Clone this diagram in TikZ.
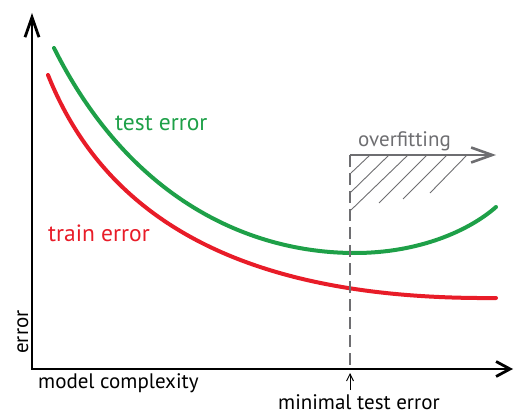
\documentclass[tikz,border=0pt]{standalone}
\usepackage{fontspec}
\setmainfont{PT Sans}
\usetikzlibrary{positioning, arrows.meta}
\definecolor{testgreen}{RGB}{30,160,72}
\definecolor{trainred}{RGB}{232,28,40}
\definecolor{overgray}{RGB}{110,110,113}

\begin{document}
\begin{tikzpicture}[x=1pt, y=-1pt,
    axis/.style={line width=2.8pt},
    curve/.style={line width=4pt, line cap=round},
    marker/.style={overgray, line width=2.6pt, dash pattern=on 12pt off 6pt},
    hatch/.style={overgray, line width=0.9pt},
    lbl/.style={font=\fontsize{21}{25}\selectfont, inner sep=0pt}]
    \useasboundingbox (0,0) rectangle (514,414);

    % Axes
    \coordinate (ytop) at (32,13);
    \coordinate (origin) at (32,369);
    \coordinate (xend) at (513,369);
    \draw[axis, {Straight Barb[length=20pt,width=14pt]}-{Straight Barb[length=14pt,width=15pt]}]
        (ytop) -- (origin) -- (xend);

    % Curves
    \draw[curve, testgreen] (54,48) .. controls (130,200) and (250,253) .. (355,253)
        .. controls (420,253) and (470,230) .. (496,207);
    \draw[curve, trainred] (48,75) .. controls (110,230) and (260,300) .. (496,298);

    % Minimum marker and overfitting region
    \coordinate (mintop) at (350,155);
    \coordinate (minbot) at (350,369);
    \coordinate (overend) at (496,155);
    \draw[marker] (mintop) -- (minbot);
    \draw[overgray, line width=2.6pt, -{Straight Barb[length=21pt,width=15pt]}] (mintop) -- (overend);
    \foreach \xa/\ya/\xb/\yb in {351/173/370/155, 351/192/389/155, 351/210/408/155,
                                 379/203/427/155, 403/199/447/155, 430/193/467/155}
        \draw[hatch] (\xa,\ya) -- (\xb,\yb);

    % Labels
    \node[lbl, font=\fontsize{23.5}{28}\selectfont, testgreen, anchor=base west] (testlbl) at (115,131) {test error};
    \node[lbl, font=\fontsize{23.5}{28}\selectfont, trainred, anchor=base west] (trainlbl) at (48,242) {train error};
    \node[lbl, overgray, anchor=base west] (overlbl) at (358,147) {overfitting};
    \node[lbl, anchor=base west] (xlabel) at (38,388) {model complexity};
    \node[lbl, anchor=base west] (minlbl) at (278,409) {minimal test error};
    \node[lbl, rotate=90, anchor=base west] (ylabel) at (28,354) {error};

    % Arrow to the minimum
    \coordinate (minarrow) at (350,390);
    \coordinate (minpt) at (350,373);
    \draw[line width=0.9pt, -{Straight Barb[length=7pt,width=7pt]}] (minarrow) -- (minpt);
\end{tikzpicture}
\end{document}
